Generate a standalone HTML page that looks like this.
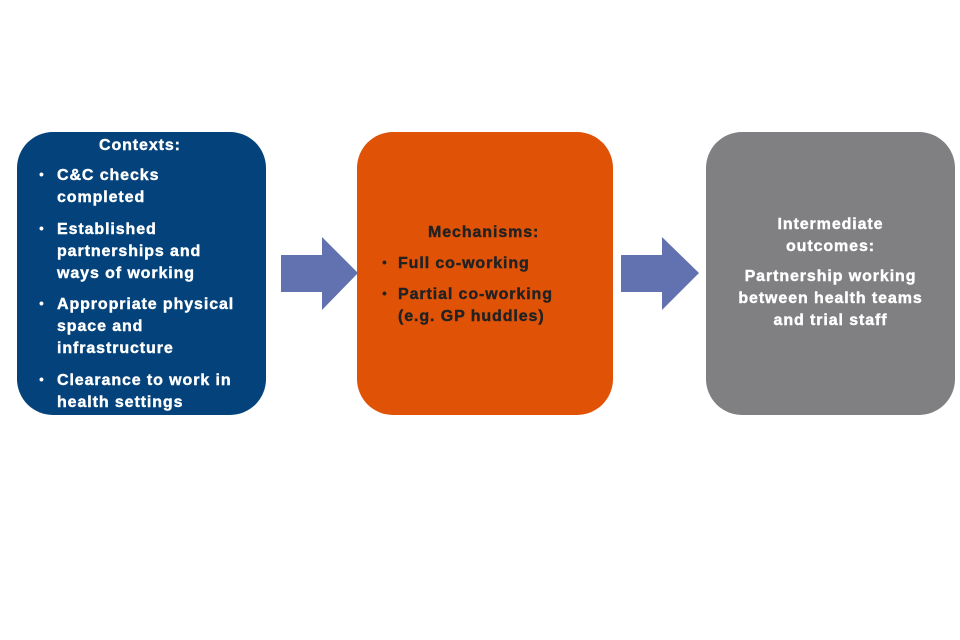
<!DOCTYPE html>
<html><head><style>
body{margin:0;width:960px;height:640px;background:#fff;position:relative;font-family:"Liberation Sans",Arial,sans-serif;font-weight:bold;overflow:hidden}
.box{position:absolute;top:132px;height:283px;border-radius:36px}
.t{position:absolute;font-size:16px;line-height:22px;white-space:nowrap;letter-spacing:0.9px;-webkit-text-stroke:0.4px currentColor}
.b{position:absolute;font-size:14px}
</style></head><body>
<div class="box" style="left:17px;width:249px;background:#03427a"></div>
<div class="box" style="left:357px;width:256px;background:#e05206"></div>
<div class="box" style="left:706px;width:249px;background:#808083"></div>
<svg width="960" height="640" style="position:absolute;left:0;top:0">
<polygon points="281,255 322,255 322,237 358,273 322,310 322,292 281,292" fill="#6272b0"/>
<polygon points="621,255 662,255 662,237 699,273 662,310 662,292 621,292" fill="#6272b0"/>
</svg>
<div style="color:#fff">
<div class="t" style="left:99px;top:135px">Contexts:</div>
<div class="b" style="left:39px;top:166px">•</div>
<div class="t" style="left:57px;top:165px">C&amp;C checks<br>completed</div>
<div class="b" style="left:39px;top:220px">•</div>
<div class="t" style="left:57px;top:219px">Established<br>partnerships and<br>ways of working</div>
<div class="b" style="left:39px;top:295px">•</div>
<div class="t" style="left:57px;top:294px">Appropriate physical<br>space and<br>infrastructure</div>
<div class="b" style="left:39px;top:371px">•</div>
<div class="t" style="left:57px;top:370px">Clearance to work in<br>health settings</div>
</div>
<div style="color:#222">
<div class="t" style="left:428px;top:222px">Mechanisms:</div>
<div class="b" style="left:382px;top:254px">•</div>
<div class="t" style="left:398px;top:253px">Full co-working</div>
<div class="b" style="left:382px;top:285px">•</div>
<div class="t" style="left:398px;top:284px">Partial co-working<br>(e.g. GP huddles)</div>
</div>
<div class="t" style="color:#fff;left:706px;width:249px;top:214px;text-align:center;white-space:normal">
Intermediate<br>outcomes:<div style="height:8px"></div>Partnership working<br>between health teams<br>and trial staff
</div>
</body></html>
